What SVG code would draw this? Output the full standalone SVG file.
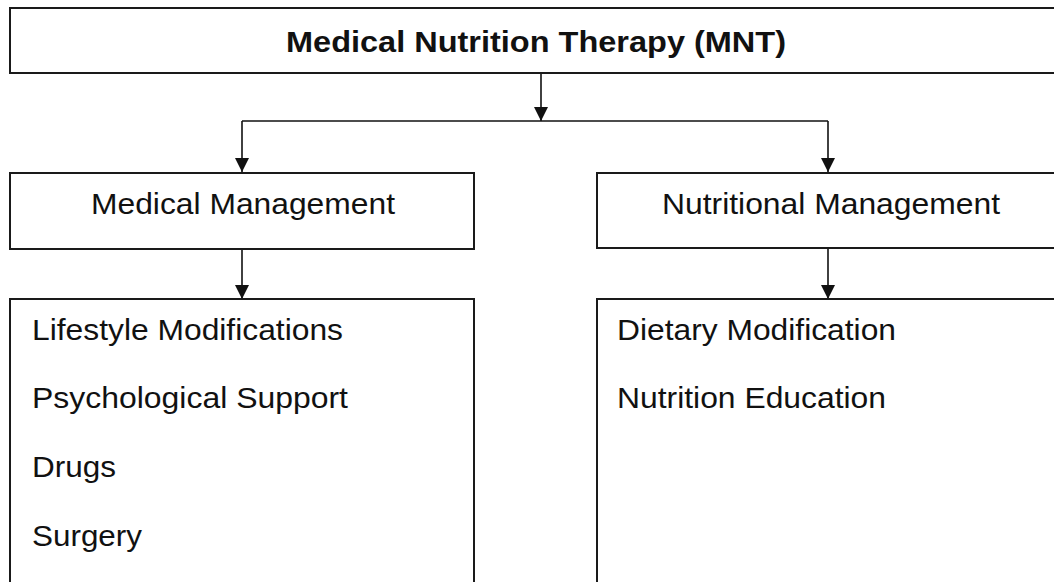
<svg xmlns="http://www.w3.org/2000/svg" width="1054" height="582" viewBox="0 0 1054 582">
<style>
.box{fill:#fff;stroke:#1a1a1a;stroke-width:2}
.t{font-family:"Liberation Sans",Arial,sans-serif;font-size:30px;fill:#111}
.b{font-weight:bold}
.c{stroke:#111;stroke-width:1.6;fill:none}
</style>
<defs>
<marker id="ah" markerUnits="userSpaceOnUse" markerWidth="16" markerHeight="16" viewBox="0 0 16 16" refX="14" refY="8" orient="auto">
<path d="M0,1 L14,8 L0,15 Z" fill="#111"/>
</marker>
</defs>
<rect width="1054" height="582" fill="#fff"/>
<g id="connectors">
<path class="c" d="M541,73 V121" marker-end="url(#ah)"/>
<path class="c" d="M242,121 H828"/>
<path class="c" d="M242,121 V172" marker-end="url(#ah)"/>
<path class="c" d="M828,121 V172" marker-end="url(#ah)"/>
<path class="c" d="M242,249 V299" marker-end="url(#ah)"/>
<path class="c" d="M828,248 V299" marker-end="url(#ah)"/>
</g>
<g id="mnt">
<rect class="box" x="10" y="8" width="1060" height="65"/>
<text class="t b" x="536" y="52" text-anchor="middle" textLength="500" lengthAdjust="spacingAndGlyphs">Medical Nutrition Therapy (MNT)</text>
</g>
<g id="medical">
<rect class="box" x="10" y="173" width="464" height="76"/>
<text class="t" x="243" y="214" text-anchor="middle" textLength="304" lengthAdjust="spacingAndGlyphs">Medical Management</text>
</g>
<g id="nutritional">
<rect class="box" x="597" y="173" width="470" height="75"/>
<text class="t" x="831" y="214" text-anchor="middle" textLength="338" lengthAdjust="spacingAndGlyphs">Nutritional Management</text>
</g>
<g id="medical-list">
<rect class="box" x="10" y="299" width="464" height="300"/>
<text class="t" x="32" y="340" textLength="311" lengthAdjust="spacingAndGlyphs">Lifestyle Modifications</text>
<text class="t" x="32" y="408" textLength="316" lengthAdjust="spacingAndGlyphs">Psychological Support</text>
<text class="t" x="32" y="477" textLength="84" lengthAdjust="spacingAndGlyphs">Drugs</text>
<text class="t" x="32" y="546" textLength="110" lengthAdjust="spacingAndGlyphs">Surgery</text>
</g>
<g id="nutritional-list">
<rect class="box" x="597" y="299" width="470" height="300"/>
<text class="t" x="617" y="340" textLength="279" lengthAdjust="spacingAndGlyphs">Dietary Modification</text>
<text class="t" x="617" y="408" textLength="269" lengthAdjust="spacingAndGlyphs">Nutrition Education</text>
</g>
</svg>
